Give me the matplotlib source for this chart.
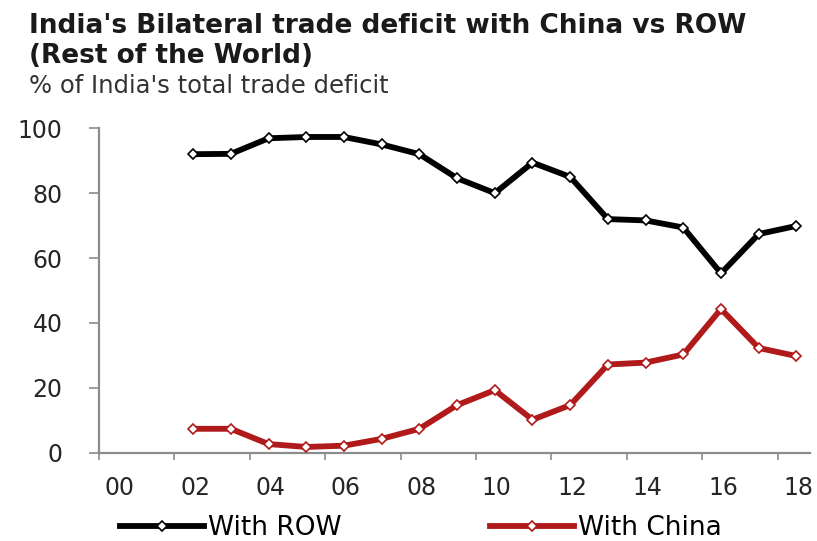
#!/usr/bin/env python3
# -*- coding: utf-8 -*-
"""India's bilateral trade deficit with China vs rest of the world."""

import numpy as np
from matplotlib import pyplot as plt
from matplotlib.ticker import FixedLocator

years = list(range(2, 19))
row_share = [92.0, 92.1, 96.9, 97.3, 97.3, 95.0, 92.0, 84.6, 80.0, 89.4,
             85.0, 72.0, 71.6, 69.4, 55.3, 67.4, 69.9]
china_share = [7.4, 7.4, 2.7, 1.8, 2.2, 4.3, 7.4, 14.7, 19.3, 10.2,
               14.7, 27.2, 27.8, 30.3, 44.3, 32.3, 29.8]
tick_years = [0, 2, 4, 6, 8, 10, 12, 14, 16, 18]
tick_labels = ["00", "02", "04", "06", "08", "10", "12", "14", "16", "18"]

title_lines = ["India's Bilateral trade deficit with China vs ROW",
               "(Rest of the World)"]
subtitle = "% of India's total trade deficit"

black = "#000000"
red = "#B01A1A"
grey = "#8C8C8C"
txt = "#262626"

plt.rcParams["font.family"] = "DejaVu Sans"

fig = plt.figure(figsize=(8.17, 5.41), dpi=100)
ax = fig.add_axes([0.121, 0.163, 0.87, 0.6])

# values sit mid-year, between the tick marks
x = np.array(years) + 0.5
ax.plot(x, row_share, color=black, lw=4.2, marker="D", ms=5.5,
        mfc="white", mec=black, mew=1.2, label="With ROW", zorder=3)
ax.plot(x, china_share, color=red, lw=4.2, marker="D", ms=5.5,
        mfc="white", mec=red, mew=1.2, label="With China", zorder=3)

ax.set_xlim(0, 18.85)
ax.set_ylim(0, 100)
ax.set_yticks([0, 20, 40, 60, 80, 100])

# tick marks on the years, labels centred half a year later
ax.xaxis.set_minor_locator(FixedLocator(tick_years))
ax.set_xticks(np.array(tick_years) + 0.55)
ax.set_xticklabels(tick_labels)
ax.tick_params(axis="x", which="major", length=0, pad=17,
               labelsize=17, labelcolor=txt)
ax.tick_params(axis="x", which="minor", length=5, width=1.2,
               color=grey, direction="out")
ax.tick_params(axis="y", length=7, width=1.2, color=grey, pad=19,
               labelsize=17, labelcolor=txt)

for side in ("top", "right"):
    ax.spines[side].set_visible(False)
for side in ("left", "bottom"):
    ax.spines[side].set_color(grey)
    ax.spines[side].set_linewidth(1.6)

# title lines placed on the reference baselines
for line, base in zip(title_lines, [33, 63]):
    fig.text(0.036, 1 - base / 541, line, fontsize=19, fontweight="bold",
             va="baseline", color="#1a1a1a")
fig.text(0.036, 1 - 93 / 541, subtitle, fontsize=17.5,
         va="baseline", color="#333333")

fig.legend(loc="center", bbox_to_anchor=(0.515, 1 - 528 / 541), ncol=2,
           frameon=False, handlelength=3.2, columnspacing=5.6,
           handletextpad=0.15, borderpad=0, prop={"size": 19})

fig.savefig("out.png", dpi=100)
